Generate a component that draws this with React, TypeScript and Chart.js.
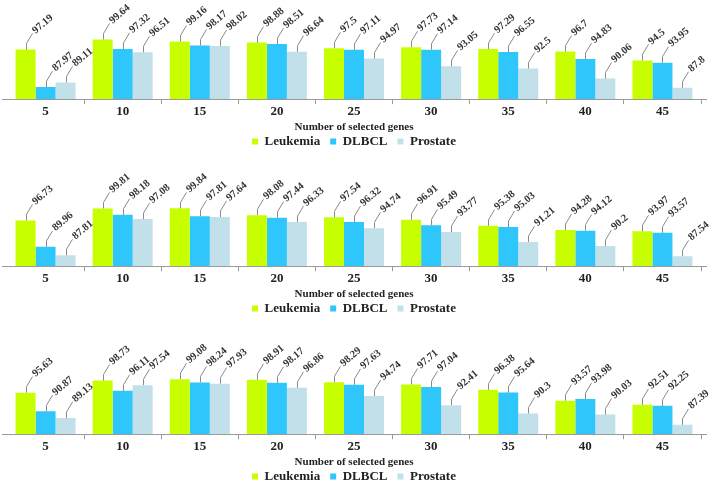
import React, { useEffect, useRef } from "react";
import { Chart, registerables } from "chart.js";

Chart.register(...registerables);

const categories = ["5", "10", "15", "20", "25", "30", "35", "40", "45"];
const seriesNames = ["Leukemia", "DLBCL", "Prostate"];
const seriesColors = ["#c8ff00", "#2ec6fb", "#c2e0ea"];

const panel1Leukemia = [97.19, 99.64, 99.16, 98.88, 97.5, 97.73, 97.29, 96.7, 94.5];
const panel1DLBCL = [87.97, 97.32, 98.17, 98.51, 97.11, 97.14, 96.55, 94.83, 93.95];
const panel1Prostate = [89.11, 96.51, 98.02, 96.64, 94.97, 93.05, 92.5, 90.06, 87.8];

const panel2Leukemia = [96.73, 99.81, 99.84, 98.08, 97.54, 96.91, 95.38, 94.28, 93.97];
const panel2DLBCL = [89.96, 98.18, 97.81, 97.44, 96.32, 95.49, 95.03, 94.12, 93.57];
const panel2Prostate = [87.81, 97.08, 97.64, 96.33, 94.74, 93.77, 91.21, 90.2, 87.54];

const panel3Leukemia = [95.63, 98.73, 99.08, 98.91, 98.29, 97.71, 96.38, 93.57, 92.51];
const panel3DLBCL = [90.87, 96.11, 98.24, 98.17, 97.63, 97.04, 95.64, 93.98, 92.25];
const panel3Prostate = [89.13, 97.54, 97.93, 96.86, 94.74, 92.41, 90.3, 90.03, 87.39];

const xTitle = "Number of selected genes";
const yMin = 85;

const FONT = "'Liberation Serif', 'DejaVu Serif', serif";

const panels = [
  { series: [panel1Leukemia, panel1DLBCL, panel1Prostate], height: 145, ppu: 4.08 },
  { series: [panel2Leukemia, panel2DLBCL, panel2Prostate], height: 167, ppu: 3.9 },
  { series: [panel3Leukemia, panel3DLBCL, panel3Prostate], height: 168, ppu: 3.91 },
];

const scalePlugin = {
  id: "scaleFit",
  afterLayout(chart: any) {
    const ppu = chart.options.plugins.scaleFit.ppu;
    const ca = chart.chartArea;
    const y = chart.scales.y;
    y.min = yMin;
    y.max = yMin + (ca.bottom - ca.top) / ppu;
    y.configure();
  },
};

const baselinePlugin = {
  id: "baseline",
  afterDatasetsDraw(chart: any) {
    const ctx = chart.ctx;
    const yb = Math.round(chart.chartArea.bottom) + 0.5;
    ctx.save();
    ctx.strokeStyle = "#9a9a9a";
    ctx.lineWidth = 1;
    ctx.beginPath();
    ctx.moveTo(2, yb);
    ctx.lineTo(707, yb);
    ctx.stroke();
    ctx.restore();
  },
};

const labelPlugin = {
  id: "leaderLabels",
  afterDatasetsDraw(chart: any) {
    const ctx = chart.ctx;
    ctx.save();
    chart.data.datasets.forEach((ds: any, di: number) => {
      const meta = chart.getDatasetMeta(di);
      meta.data.forEach((el: any, i: number) => {
        const x = Math.round(el.x) + 0.5;
        const top = el.y;
        ctx.strokeStyle = "#8a8a8a";
        ctx.lineWidth = 1;
        ctx.beginPath();
        ctx.moveTo(x, top);
        ctx.lineTo(x, top - 6);
        ctx.lineTo(x + 6, top - 16);
        ctx.stroke();
        ctx.save();
        ctx.translate(x + 6.5, top - 17);
        ctx.rotate((-40 * Math.PI) / 180);
        ctx.fillStyle = "#333333";
        ctx.font = `bold 10.5px ${FONT}`;
        ctx.textAlign = "left";
        ctx.textBaseline = "middle";
        ctx.fillText(String(ds.data[i]), 1, 0);
        ctx.restore();
      });
    });
    ctx.restore();
  },
};

function Panel({ series, height, ppu }: { series: number[][]; height: number; ppu: number }) {
  const ref = useRef<HTMLCanvasElement | null>(null);
  useEffect(() => {
    if (!ref.current) return;
    const chart = new Chart(ref.current, {
      type: "bar",
      data: {
        labels: categories,
        datasets: series.map((d, i) => ({
          label: seriesNames[i],
          data: d,
          backgroundColor: seriesColors[i],
          borderWidth: 0,
          categoryPercentage: 0.778,
          barPercentage: 1.0,
        })),
      },
      options: {
        responsive: false,
        animation: false,
        layout: { padding: { left: 7, right: 8, top: 0, bottom: -13 } },
        scales: {
          x: {
            offset: true,
            border: { display: false },
            grid: {
              offset: true,
              drawOnChartArea: false,
              drawTicks: true,
              tickLength: 5,
              color: (c: any) => (c.index === 0 || c.index >= categories.length ? "rgba(0,0,0,0)" : "#9a9a9a"),
            },
            ticks: {
              color: "#222222",
              padding: 0,
              font: { family: FONT, weight: "bold", size: 13 },
            },
            title: {
              display: true,
              text: xTitle,
              color: "#222222",
              padding: { top: 1, bottom: -9 },
              font: { family: FONT, weight: "bold", size: 11 },
            },
          },
          y: { display: false, min: yMin, max: 100 },
        },
        plugins: {
          legend: {
            position: "bottom",
            labels: {
              boxWidth: 6,
              boxHeight: 6,
              padding: 10,
              color: "#222222",
              font: { family: FONT, weight: "bold", size: 13 },
            },
          },
          tooltip: { enabled: false },
          scaleFit: { ppu },
        } as any,
      },
      plugins: [scalePlugin, baselinePlugin, labelPlugin],
    });
    return () => chart.destroy();
  }, [series, height, ppu]);
  return (
    <div style={{ width: 709, height }}>
      <canvas ref={ref} width={709} height={height} style={{ display: "block" }} />
    </div>
  );
}

export default function App() {
  return (
    <div style={{ position: "absolute", left: 0, top: 0, width: 709, height: 480, background: "#ffffff" }}>
      {panels.map((p, i) => (
        <Panel key={i} series={p.series} height={p.height} ppu={p.ppu} />
      ))}
    </div>
  );
}
